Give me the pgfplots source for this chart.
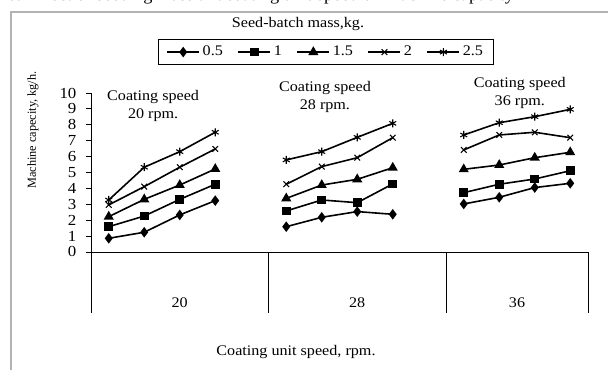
\documentclass[border=0pt]{standalone}
\usepackage{pgfplots}
\pgfplotsset{compat=1.18}
\usepackage{fontspec}
\setmainfont{Liberation Serif}[FakeStretch=1.1]
\newfontfamily\ylfont{Liberation Serif}
\begin{document}
\begin{tikzpicture}
\useasboundingbox (0,0) rectangle (456pt,276.75pt);
% outer chart frame (partly cropped)
\draw[gray!60, line width=0.8pt] (8.25pt,-2pt) -- (8.25pt,267.75pt) -- (460pt,267.75pt);
% cropped caption above the chart (only its lowest part lies in the picture)
\begin{scope}
\clip (0,269.5pt) rectangle (456pt,276.75pt);
\node[anchor=base east, inner sep=0pt, font=\fontsize{12.5}{14}\selectfont] at (168.75pt,276.2pt) {Fig. 6: Effect of seeding mass and\ };
\node[anchor=base west, inner sep=0pt, font=\fontsize{12.5}{14}\selectfont] at (168.75pt,276.2pt) {coating unit speed on machine capacity};
\end{scope}
\begin{axis}[
  at={(68.25pt,42pt)}, anchor=south west,
  scale only axis, width=372.75pt, height=165pt,
  xmin=-0.5, xmax=13.5, ymin=-3.84, ymax=10,
  axis x line=none, axis y line*=left,
  y axis line style={-, black, line width=0.6pt},
  ytick={0,1,...,10}, xtick=\empty,
  tick align=outside, major tick length=3.75pt,
  tick style={black, line width=0.6pt},
  yticklabel style={font=\fontsize{11.5}{13}\selectfont, inner sep=1.5pt, xshift=-5.5pt},
  /pgf/number format/assume math mode=true,
  clip=false,
  unbounded coords=jump,
  legend columns=5,
  legend style={at={(0.473,1.186)}, anchor=center, draw=black, line width=0.6pt,
    font=\fontsize{11}{13}\selectfont, /tikz/every even column/.append style={column sep=9pt},
    inner xsep=6pt, inner ysep=3pt},
  legend image code/.code={\draw[mark repeat=2,mark phase=2] plot coordinates {(0pt,0pt)(12pt,0pt)(24pt,0pt)};},
]
\addplot[black, line width=1.2pt, mark=diamond*, mark size=3pt, mark options={solid, fill=black}] coordinates {
 (0,0.86)(1,1.24)(2,2.33)(3,3.23)(4,nan)
 (5,1.59)(6,2.18)(7,2.54)(8,2.37)(9,nan)
 (10,3.02)(11,3.44)(12,4.05)(13,4.32)};
\addlegendentry{0.5}
\addplot[black, line width=1.2pt, mark=square*, mark size=2.6pt, mark options={solid, fill=black}] coordinates {
 (0,1.59)(1,2.26)(2,3.31)(3,4.26)(4,nan)
 (5,2.58)(6,3.27)(7,3.10)(8,4.28)(9,nan)
 (10,3.73)(11,4.26)(12,4.59)(13,5.11)};
\addlegendentry{1}
\addplot[black, line width=1.2pt, mark=triangle*, mark size=3.2pt, mark options={solid, fill=black}] coordinates {
 (0,2.22)(1,3.31)(2,4.21)(3,5.22)(4,nan)
 (5,3.37)(6,4.21)(7,4.57)(8,5.30)(9,nan)
 (10,5.20)(11,5.47)(12,5.93)(13,6.27)};
\addlegendentry{1.5}
\addplot[black, line width=1.2pt, mark=x, mark size=3pt, mark options={solid, line width=0.8pt}] coordinates {
 (0,2.96)(1,4.11)(2,5.33)(3,6.48)(4,nan)
 (5,4.26)(6,5.37)(7,5.93)(8,7.19)(9,nan)
 (10,6.42)(11,7.36)(12,7.53)(13,7.19)};
\addlegendentry{2}
\addplot[black, line width=1.2pt, mark=asterisk, mark size=3pt, mark options={solid, line width=0.8pt}] coordinates {
 (0,3.27)(1,5.33)(2,6.31)(3,7.53)(4,nan)
 (5,5.79)(6,6.31)(7,7.21)(8,8.09)(9,nan)
 (10,7.36)(11,8.13)(12,8.51)(13,8.97)};
\addlegendentry{2.5}
% category axis
\draw[black, line width=0.6pt] (axis cs:-0.5,0) -- (axis cs:13.5,0);
\draw[black, line width=0.6pt] (axis cs:4.5,0) -- (axis cs:4.5,-3.84);
\draw[black, line width=0.6pt] (axis cs:9.5,0) -- (axis cs:9.5,-3.84);
\draw[black, line width=0.6pt] (axis cs:13.5,0) -- (axis cs:13.5,-3.84);
\node[font=\fontsize{11}{13}\selectfont] at (axis cs:2,-3.2) {20};
\node[font=\fontsize{11}{13}\selectfont] at (axis cs:7,-3.2) {28};
\node[font=\fontsize{11}{13}\selectfont] at (axis cs:11.5,-3.2) {36};
% annotations
\node[align=center, font=\fontsize{11}{13.5}\selectfont] at (axis cs:1.25,9.18) {Coating speed\\20 rpm.};
\node[align=center, font=\fontsize{11}{13.5}\selectfont] at (axis cs:6.09,9.75) {Coating speed\\28 rpm.};
\node[align=center, font=\fontsize{11}{13.5}\selectfont] at (axis cs:11.58,10.03) {Coating speed\\36 rpm.};
\end{axis}
% titles
\node[font=\fontsize{11}{13}\selectfont] at (223.5pt,258.75pt) {Seed-batch mass,kg.};
\node[font=\fontsize{11}{13}\selectfont] at (222pt,12.75pt) {Coating unit speed, rpm.};
\node[rotate=90, font=\ylfont\fontsize{9.2}{11}\selectfont] at (24.75pt,179.25pt) {Machine capecity, kg/h.};
\end{tikzpicture}
\end{document}
